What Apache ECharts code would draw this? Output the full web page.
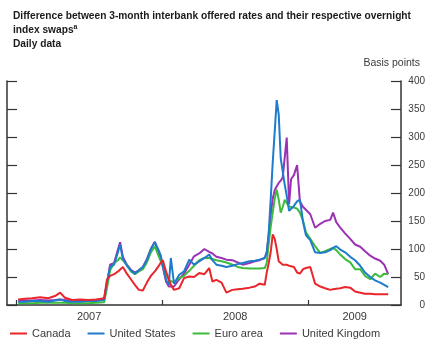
<!DOCTYPE html>
<html>
<head>
<meta charset="utf-8">
<script src="https://cdn.jsdelivr.net/npm/echarts@6/dist/echarts.min.js"></script>
<style>
  html, body { margin: 0; padding: 0; background: #fff; }
  #chart { width: 428px; height: 341px; }
</style>
</head>
<body>
<div id="chart"></div>
<script>
// Sample dates (daily series, read at a reduced set of dates)
const dates = [
  '2007-01-06','2007-01-23','2007-02-10','2007-03-02','2007-03-22','2007-04-08','2007-04-21','2007-05-03',
  '2007-05-21','2007-06-10','2007-06-30','2007-07-20','2007-08-09','2007-08-16','2007-08-24','2007-09-03',
  '2007-09-13','2007-09-18','2007-09-25','2007-10-05','2007-10-15','2007-10-25','2007-11-04','2007-11-14',
  '2007-11-24','2007-12-04','2007-12-14','2007-12-22','2007-12-29','2008-01-03','2008-01-11','2008-01-18',
  '2008-01-23','2008-01-31','2008-02-13','2008-02-25','2008-03-09','2008-03-21','2008-04-03','2008-04-16',
  '2008-04-28','2008-05-06','2008-05-16','2008-05-29','2008-06-10','2008-06-25','2008-07-08','2008-07-21',
  '2008-08-07','2008-08-20','2008-09-01','2008-09-14','2008-09-19','2008-09-24','2008-09-29','2008-10-04',
  '2008-10-09','2008-10-14','2008-10-19','2008-10-24','2008-10-29','2008-11-03','2008-11-08','2008-11-14',
  '2008-11-19','2008-11-26','2008-12-04','2008-12-11','2008-12-19','2008-12-26','2009-01-06','2009-01-18',
  '2009-01-31','2009-02-12','2009-02-25','2009-03-04','2009-03-12','2009-03-22','2009-04-03','2009-04-16',
  '2009-04-28','2009-05-11','2009-05-23','2009-06-05','2009-06-17','2009-06-30','2009-07-10','2009-07-20'
];

// Basis points
const canada = [
  10,11,12,14,12,16,22,13, 9,10,9,10,12,45,52,55,
  60,62,68,56,46,36,27,26, 40,52,60,68,76,80,60,45,
  36,27,30,48,51,50,57,55, 66,42,45,40,22,27,28,29,
  31,33,38,36,58,75,95,126, 118,100,78,75,72,74,72,70,
  70,68,58,56,64,66,68,38, 33,30,27,28,29,30,32,31,
  24,22,20,20,19,19,19,19
];
const unitedStates = [
  6,6,7,7,6,8,10,7, 6,6,7,7,9,40,68,72,
  95,108,82,70,62,56,62,68, 80,100,112,100,88,70,45,36,
  84,38,54,60,81,72,78,84, 90,80,72,70,68,70,73,75,
  78,79,81,84,92,130,190,255, 310,366,340,262,265,215,195,168,
  170,177,185,188,148,125,116,94, 93,94,98,102,105,99,94,86,
  80,70,58,50,44,40,36,32
];
const euroArea = [
  3,3,3,4,4,4,4,4, 3,3,3,4,5,30,62,75,
  80,85,80,72,60,55,60,64, 76,94,105,90,78,70,55,45,
  42,40,48,52,61,70,80,84, 84,82,80,78,76,72,68,66,
  65,65,65,66,75,110,140,165, 190,206,188,165,175,188,182,176,
  177,174,172,165,150,130,118,105, 93,96,100,102,98,90,82,76,
  64,64,52,46,56,50,56,55
];
const unitedKingdom = [
  8,8,8,9,8,9,10,9, 8,8,8,9,10,38,72,75,
  100,112,86,72,63,58,62,68, 82,100,113,96,82,68,42,33,
  36,33,46,56,72,87,92,100, 95,92,86,84,81,80,76,72,
  75,78,80,84,95,125,160,190, 205,212,218,222,228,230,299,180,
  225,232,250,185,175,170,162,138, 145,150,152,165,148,138,128,118,
  108,104,96,88,83,79,72,55
];

// Axis text
const yearLabels = ['2007', '2008', '2009'];
const yearStarts = ['2007-01-01', '2008-01-01', '2009-01-01'];
const xRange = ['2006-12-09', '2009-08-21'];

function day(s) {
  const p = s.split('-').map(Number);
  return Date.UTC(p[0], p[1] - 1, p[2]);
}
function pairs(values) {
  return dates.map((d, i) => [day(d), values[i]]);
}

const xMin = day(xRange[0]);
const xMax = day(xRange[1]);
const tickValues = yearStarts.map(day);
// Each year label sits in the middle of the part of that year shown on the axis
const labelValues = tickValues.map((t, i) => {
  const end = i + 1 < tickValues.length ? tickValues[i + 1] : xMax;
  return (t + end) / 2;
});
function yearOf(v) {
  for (let i = tickValues.length - 1; i >= 0; i--) {
    if (v >= tickValues[i]) return yearLabels[i];
  }
  return '';
}

const axisColor = '#333';
const textColor = '#3a3a3a';
const font = 'Liberation Sans, Arial, sans-serif';

const chart = echarts.init(document.getElementById('chart'), null, { renderer: 'canvas' });
chart.setOption({
  animation: false,
  backgroundColor: '#fff',
  textStyle: { fontFamily: font },
  title: [
    {
      left: 8, top: 4,
      text: 'Difference between 3-month interbank offered rates and their respective overnight\nindex swaps{sup|a}\nDaily data',
      textStyle: {
        fontSize: 10.2, fontWeight: 'bold', color: '#1a1a1a', lineHeight: 14, fontFamily: font,
        rich: { sup: { fontSize: 7, fontWeight: 'bold', color: '#1a1a1a', fontFamily: font, padding: [0, 0, 6, 0] } }
      }
    },
    {
      right: 3, top: 53,
      text: 'Basis points',
      textStyle: { fontSize: 10.5, fontWeight: 'normal', color: textColor, fontFamily: font }
    }
  ],
  grid: { left: 7, right: 27, top: 81, bottom: 36, containLabel: false },
  legend: {
    data: ['Canada', 'United States', 'Euro area', 'United Kingdom'],
    left: 10, top: 328, padding: 0,
    icon: 'rect', itemWidth: 17, itemHeight: 2, itemGap: 17,
    textStyle: { fontSize: 11, color: textColor, fontFamily: font }
  },
  xAxis: {
    type: 'value',
    min: xMin, max: xMax,
    axisLine: { show: true, onZero: false, lineStyle: { color: axisColor, width: 1.5 } },
    axisTick: { show: true, inside: true, length: 5, customValues: tickValues, lineStyle: { color: axisColor, width: 1.2 } },
    axisLabel: {
      show: true, customValues: labelValues, margin: 6,
      fontSize: 11, color: textColor, fontFamily: font,
      formatter: v => yearOf(v)
    },
    splitLine: { show: false }
  },
  yAxis: [
    {
      type: 'value', position: 'left', min: 0, max: 400, interval: 50,
      axisLine: { show: true, lineStyle: { color: axisColor, width: 1.5 } },
      axisTick: { show: true, inside: true, length: 10, lineStyle: { color: axisColor, width: 1.2 } },
      axisLabel: { show: false },
      splitLine: { show: false }
    },
    {
      type: 'value', position: 'right', min: 0, max: 400, interval: 50,
      axisLine: { show: true, lineStyle: { color: axisColor, width: 1.5 } },
      axisTick: { show: true, inside: true, length: 10, lineStyle: { color: axisColor, width: 1.2 } },
      axisLabel: { show: true, align: 'right', margin: 24, fontSize: 10, color: textColor, fontFamily: font },
      splitLine: { show: false }
    }
  ],
  series: [
    { name: 'United Kingdom', type: 'line', yAxisIndex: 1, data: pairs(unitedKingdom), showSymbol: false, color: '#9b31b5', lineStyle: { width: 2 } },
    { name: 'Euro area', type: 'line', yAxisIndex: 1, data: pairs(euroArea), showSymbol: false, color: '#3cbb3c', lineStyle: { width: 2 } },
    { name: 'United States', type: 'line', yAxisIndex: 1, data: pairs(unitedStates), showSymbol: false, color: '#1f7bcc', lineStyle: { width: 2 } },
    { name: 'Canada', type: 'line', yAxisIndex: 1, data: pairs(canada), showSymbol: false, color: '#e8262b', lineStyle: { width: 2 } }
  ]
});
</script>
</body>
</html>
